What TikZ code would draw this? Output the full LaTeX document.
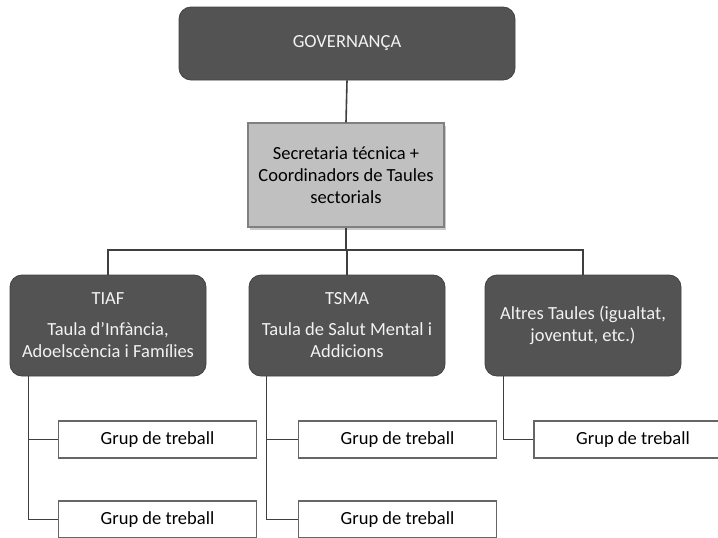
\documentclass[tikz,border=0pt]{standalone}
\usepackage{fontspec}
\setmainfont{Carlito}
\usetikzlibrary{shadows}

\definecolor{boxdark}{HTML}{535353}
\definecolor{boxlight}{HTML}{C0C0C0}
\definecolor{linegray}{HTML}{3F3F3F}

\tikzset{
  darkbox/.style={draw=boxdark!80!black,line width=0.8pt,fill=boxdark,rounded corners=12pt,
    text=white!95!black,align=center,minimum width=196pt,minimum height=101pt,
    font=\fontsize{18.5}{22}\selectfont},
  secbox/.style={draw=gray,line width=1.2pt,fill=boxlight,align=center,
    minimum width=196pt,minimum height=104pt,font=\fontsize{18.5}{22}\selectfont,
    drop shadow={shadow xshift=2pt,shadow yshift=-2.5pt,fill=gray!70,opacity=0.6}},
  grupbox/.style={draw=gray!80!black,line width=1.3pt,fill=white,
    minimum width=198pt,minimum height=37pt,font=\fontsize{18.5}{22}\selectfont},
  link/.style={draw=linegray,line width=1.6pt}
}

\begin{document}
\begin{tikzpicture}[x=1pt,y=-1pt]
  \useasboundingbox (0,0) rectangle (718,538);
  \clip (0,0) rectangle (718,538);

  \node[darkbox,minimum width=336pt,minimum height=73pt] (gov) at (347,43.5) {GOVERNANÇA};
  \node[secbox] (sec) at (346,175) {Secretaria técnica +\\ Coordinadors de Taules\\ sectorials};

  \node[darkbox] (tiaf) at (108,325.5) {TIAF\\[9pt] Taula d’Infància,\\ Adoelscència i Famílies};
  \node[darkbox] (tsma) at (347,325.5) {TSMA\\[9pt] Taula de Salut Mental i\\ Addicions};
  \node[darkbox] (altres) at (583,325.5) {Altres Taules (igualtat,\\ joventut, etc.)};

  \node[grupbox] (g11) at (157.5,439.5) {Grup de treball};
  \node[grupbox] (g12) at (157.5,519.5) {Grup de treball};
  \node[grupbox] (g21) at (397.5,439.5) {Grup de treball};
  \node[grupbox] (g22) at (397.5,519.5) {Grup de treball};
  \node[grupbox] (g31) at (633,439.5) {Grup de treball};

  \coordinate (hub) at (346,250);

  \draw[link] (gov.south) -- (sec.north);
  \draw[link] (sec.south) -- (hub);
  \draw[link] (tiaf.north) |- (hub) -| (altres.north);
  \draw[link] (hub) -| (tsma.north);

  \draw[link] ([xshift=19pt]tiaf.south west) |- (g11.west);
  \draw[link] ([xshift=19pt]tiaf.south west) |- (g12.west);
  \draw[link] ([xshift=18pt]tsma.south west) |- (g21.west);
  \draw[link] ([xshift=18pt]tsma.south west) |- (g22.west);
  \draw[link] ([xshift=19pt]altres.south west) |- (g31.west);
\end{tikzpicture}
\end{document}
